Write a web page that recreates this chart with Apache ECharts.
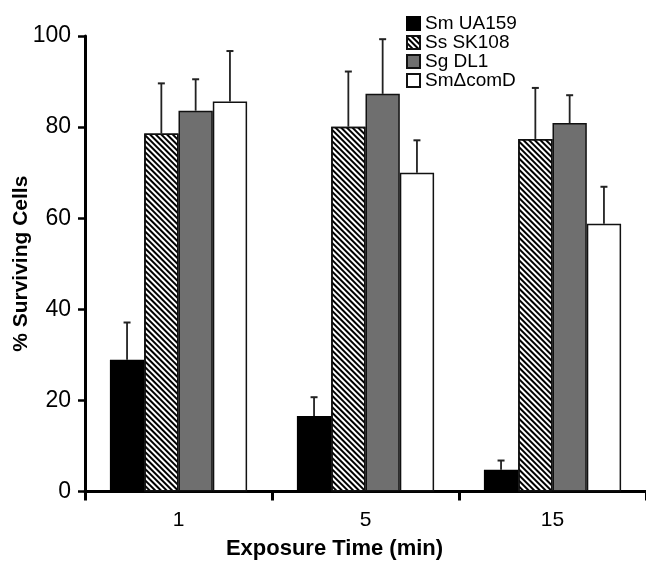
<!DOCTYPE html>
<html><head><meta charset="utf-8">
<script src="https://cdn.jsdelivr.net/npm/echarts@6/dist/echarts.min.js"></script>
<style>html,body{margin:0;padding:0;background:#fff}#c{width:646px;height:562px}</style>
</head><body><div id="c"></div>
<script>
const categories = ['1', '5', '15'];
const seriesNames = ['Sm UA159', 'Ss SK108', 'Sg DL1', 'Sm\u0394comD'];
const smUA159 = [28.9, 16.6, 4.8];
const ssSK108 = [78.6, 80.1, 77.4];
const sgDL1 = [83.6, 87.3, 80.9];
const smComD = [85.6, 70.0, 58.8];
const smUA159Err = [8.2, 4.1, 2.0];
const ssSK108Err = [11.0, 12.1, 11.2];
const sgDL1Err = [6.9, 12.0, 6.1];
const smComDErr = [11.1, 7.1, 8.1];
const yTicks = [0, 20, 40, 60, 80, 100];

const values = [smUA159, ssSK108, sgDL1, smComD];
const errs = [smUA159Err, ssSK108Err, sgDL1Err, smComDErr];
const BAR_W = 34.3;
const font = 'Arial, "Liberation Sans", Helvetica, sans-serif';

const styles = [
  {color: '#000', borderColor: '#000', borderWidth: 1.5},
  {color: '#fff', borderColor: '#111', borderWidth: 1.5,
   decal: {symbol: 'rect', symbolSize: 1, dashArrayX: [1, 0], dashArrayY: [1.3, 1.3], rotation: Math.PI / 4, color: '#000'}},
  {color: '#6f6f6f', borderColor: '#111', borderWidth: 1.5},
  {color: '#fff', borderColor: '#111', borderWidth: 1.5}
];

const series = [];
seriesNames.forEach((n, i) => {
  series.push({
    name: n, type: 'bar', data: values[i], barWidth: BAR_W, barGap: '0%',
    itemStyle: styles[i], z: 2
  });
});
seriesNames.forEach((n, i) => {
  series.push({
    type: 'custom', name: n + ' err', z: 1,
    data: values[i].map((v, k) => [k, v, v + errs[i][k]]),
    renderItem: function (params, api) {
      const base = api.coord([api.value(0), api.value(1)]);
      const top = api.coord([api.value(0), api.value(2)]);
      const x = base[0] + (i - 1.5) * BAR_W;
      return {
        type: 'group',
        children: [
          {type: 'line', shape: {x1: x, y1: base[1], x2: x, y2: top[1]}, style: {stroke: '#222', lineWidth: 1.8}},
          {type: 'line', shape: {x1: x - 3.5, y1: top[1], x2: x + 3.5, y2: top[1]}, style: {stroke: '#222', lineWidth: 2}}
        ]
      };
    },
    encode: {x: 0, y: [1, 2]},
    silent: true
  });
});

const chart = echarts.init(document.getElementById('c'), null, {renderer: 'canvas'});
chart.setOption({
  animation: false,
  backgroundColor: '#fff',
  grid: {left: 85, right: 0, top: 36, bottom: 70.5, containLabel: false, outerBoundsMode: 'none'},
  legend: {
    data: seriesNames, orient: 'vertical', left: 401, top: 9,
    icon: 'rect', itemWidth: 13, itemHeight: 13, itemGap: 0,
    textStyle: {fontFamily: font, fontSize: 19, color: '#000'}
  },
  xAxis: {
    type: 'category', data: categories,
    axisLine: {lineStyle: {color: '#000', width: 3}},
    axisTick: {show: true, length: 9, lineStyle: {color: '#000', width: 3}},
    axisLabel: {fontFamily: font, fontSize: 21, color: '#000', margin: 18},
    name: 'Exposure Time (min)', nameLocation: 'middle', nameGap: 46, nameMoveOverlap: false,
    nameTextStyle: {fontFamily: font, fontSize: 22, fontWeight: 'bold', color: '#000', padding: [0, 62, 0, 0]}
  },
  yAxis: {
    type: 'value', min: 0, max: 100, interval: 20,
    axisLine: {show: true, lineStyle: {color: '#000', width: 3}},
    axisTick: {show: true, length: 7, lineStyle: {color: '#000', width: 2.5}},
    splitLine: {show: false},
    axisLabel: {fontFamily: font, fontSize: 23, color: '#000', margin: 14,
      formatter: v => yTicks.includes(v) ? String(v) : ''},
    name: '% Surviving Cells', nameLocation: 'middle', nameGap: 53, nameMoveOverlap: false,
    nameTextStyle: {fontFamily: font, fontSize: 21, fontWeight: 'bold', color: '#000'}
  },
  series: series
});
</script></body></html>
